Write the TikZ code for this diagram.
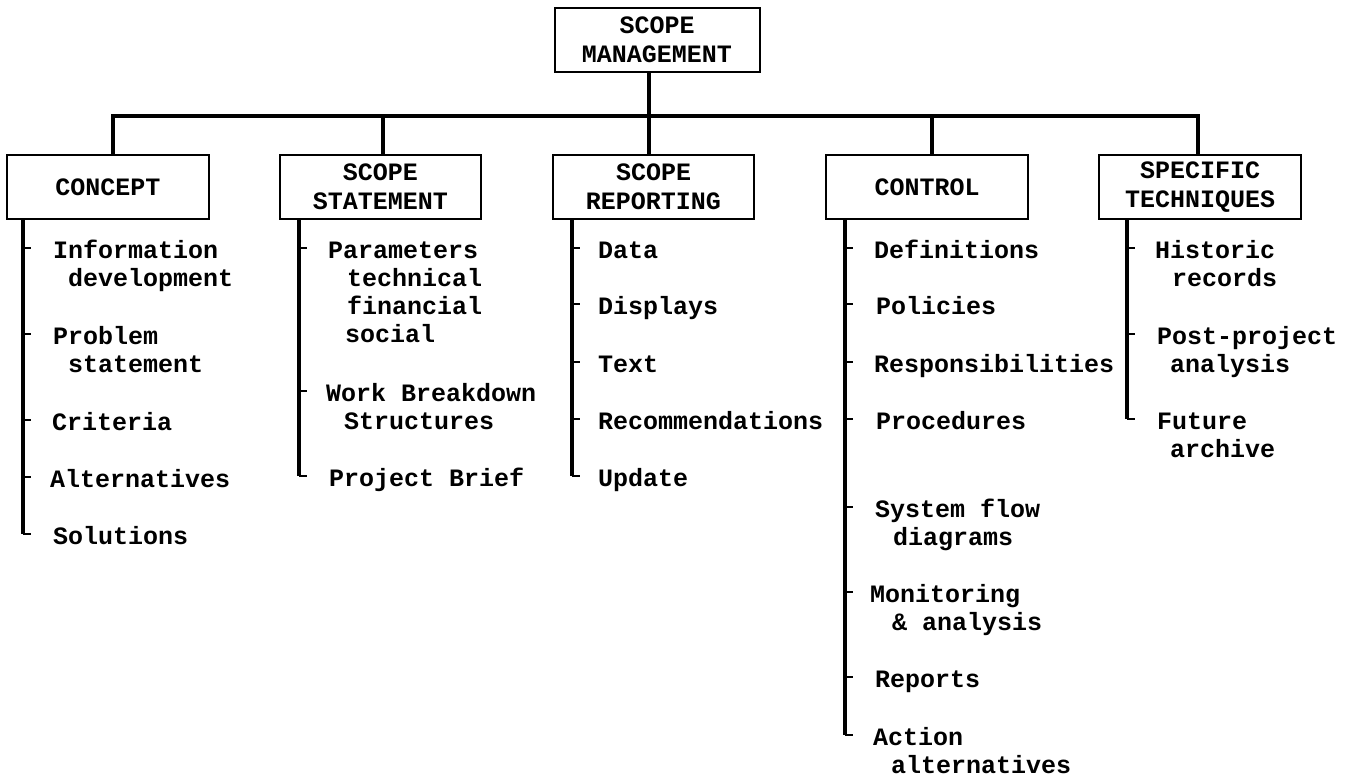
\documentclass[tikz,border=0pt]{standalone}
\usepackage{fontspec}
\newfontfamily\cour{Liberation Mono}
\usetikzlibrary{calc}
\newcommand\leaf[5]{%
  \node[item] (#1) at (#3,#4+7) {\begin{tabular}[t]{@{}l@{}}#5\end{tabular}};
  \path (#2 |- #1.base) ++(0,-10) coordinate (#1t);
  \draw[tick] (#1t) -- ++(8,0);}
\begin{document}
\begin{tikzpicture}[x=1pt,y=-1pt,
  box/.style={draw, line width=2pt, inner sep=0pt, align=center,
    font=\cour\bfseries\fontsize{25}{29}\selectfont},
  item/.style={inner sep=0pt, anchor=base west,
    font=\cour\bfseries\fontsize{25}{28}\selectfont},
  bus/.style={line width=4.5pt},
  spine/.style={line width=4pt},
  tick/.style={line width=1.6pt}]
\useasboundingbox (0,0) rectangle (1352,779);

% boxes
\node[box, minimum width=205, minimum height=64] (top) at (657,40) {SCOPE\\MANAGEMENT};
\node[box, minimum width=202, minimum height=64] (c1) at (108,187) {CONCEPT};
\node[box, minimum width=201, minimum height=64] (c2) at (380.5,187) {SCOPE\\STATEMENT};
\node[box, minimum width=201, minimum height=64] (c3) at (653.5,187) {SCOPE\\REPORTING};
\node[box, minimum width=202, minimum height=64] (c4) at (927,187) {CONTROL};
\node[box, minimum width=202, minimum height=64] (c5) at (1200,187) {SPECIFIC\\TECHNIQUES};

% bus
\coordinate (s1) at (113,116);
\coordinate (s2) at (383,116);
\coordinate (s3) at (649,116);
\coordinate (s4) at (932,116);
\coordinate (s5) at (1198,116);
\draw[bus] (c1.north -| s1) -- (s1) -- (s5) -- (c5.north -| s5);
\draw[bus] (top.south -| s3) -- (c3.north -| s3);
\draw[bus] (s2) -- (c2.north -| s2);
\draw[bus] (s4) -- (c4.north -| s4);

% spine x positions
\coordinate (p1) at (23,0);
\coordinate (p2) at (299,0);
\coordinate (p3) at (572,0);
\coordinate (p4) at (845,0);
\coordinate (p5) at (1127,0);

% column 1
\leaf{a1}{p1}{53}{251}{Information\\\hspace*{15pt}development}
\leaf{a2}{p1}{53}{337}{Problem\\\hspace*{15pt}statement}
\leaf{a3}{p1}{52}{423}{Criteria}
\leaf{a4}{p1}{50}{480}{Alternatives}
\leaf{a5}{p1}{53}{537}{Solutions}
\draw[spine] (c1.south -| p1) -- (a5t);

% column 2
\leaf{b1}{p2}{328}{251}{Parameters\\\hspace*{19pt}technical\\\hspace*{19pt}financial\\\hspace*{17pt}social}
\leaf{b2}{p2}{326}{394}{Work Breakdown\\\hspace*{18pt}Structures}
\leaf{b3}{p2}{329}{479}{Project Brief}
\draw[spine] (c2.south -| p2) -- (b3t);

% column 3
\leaf{r1}{p3}{598}{251}{Data}
\leaf{r2}{p3}{598}{307}{Displays}
\leaf{r3}{p3}{598}{365}{Text}
\leaf{r4}{p3}{598}{422}{Recommendations}
\leaf{r5}{p3}{598}{479}{Update}
\draw[spine] (c3.south -| p3) -- (r5t);

% column 4
\leaf{d1}{p4}{874}{251}{Definitions}
\leaf{d2}{p4}{876}{307}{Policies}
\leaf{d3}{p4}{874}{365}{Responsibilities}
\leaf{d4}{p4}{876}{422}{Procedures}
\leaf{d5}{p4}{875}{510}{System flow\\\hspace*{18pt}diagrams}
\leaf{d6}{p4}{870}{595}{Monitoring\\\hspace*{22pt}\& analysis}
\leaf{d7}{p4}{875}{680}{Reports}
\leaf{d8}{p4}{873}{738}{Action\\\hspace*{18pt}alternatives}
\draw[spine] (c4.south -| p4) -- (d8t);

% column 5
\leaf{e1}{p5}{1155}{251}{Historic\\\hspace*{17pt}records}
\leaf{e2}{p5}{1157}{337}{Post-project\\\hspace*{13pt}analysis}
\leaf{e3}{p5}{1157}{422}{Future\\\hspace*{13pt}archive}
\draw[spine] (c5.south -| p5) -- (e3t);
\end{tikzpicture}
\end{document}
